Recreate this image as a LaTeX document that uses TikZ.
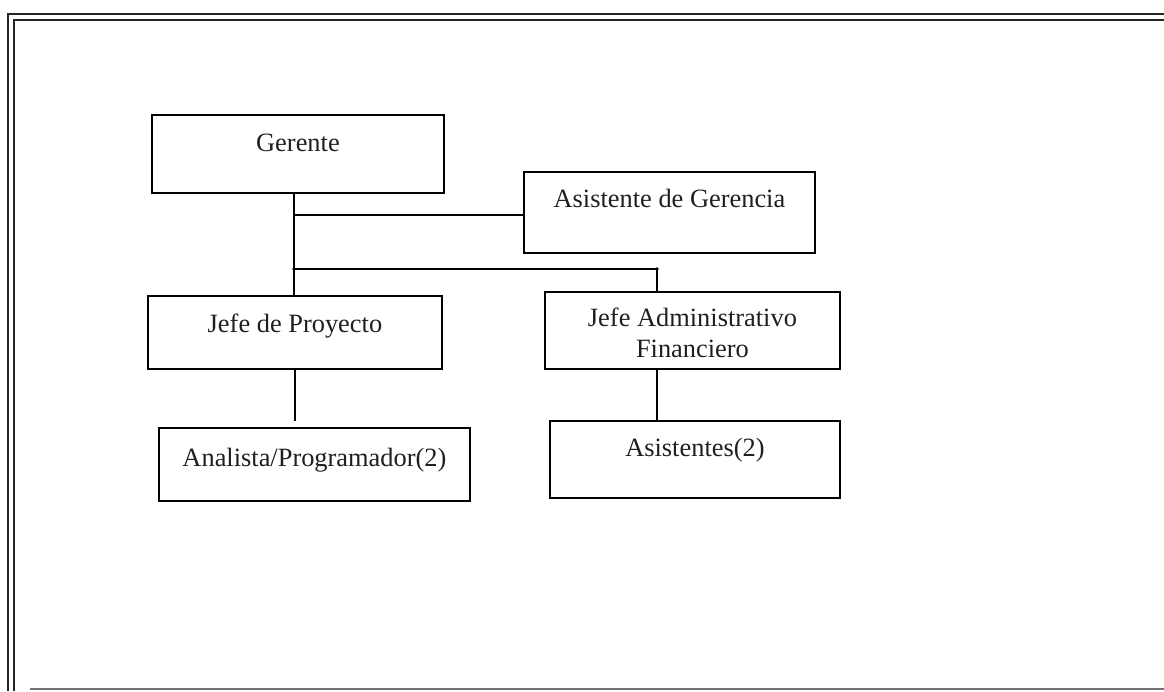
\documentclass[tikz,border=0pt]{standalone}
\usepackage{fontspec}
\setmainfont{Liberation Serif}
\usepackage{tikz}
\newcommand{\orgfont}{\fontsize{26.4}{31}\selectfont}
\tikzset{
  orgbox/.style   = {draw,line width=1.9pt,inner sep=0pt,anchor=north west,font=\orgfont,align=center,text=black!88},
  orgline/.style  = {line width=1.9pt},
  frameline/.style= {line width=2.4pt,black!85}
}

\begin{document}
\begin{tikzpicture}[x=1pt,y=-1pt]
  \useasboundingbox (0,0) rectangle (1164,691);
  \draw[frameline] (8,691) -- (8,14) -- (1164,14);
  \draw[frameline] (14,691) -- (14,20) -- (1164,20);
  \draw[line width=1.8pt,black!55] (30,689) -- (1164,689);

  \node[orgbox,minimum width=292pt,text height=37pt,text depth=41pt] (ger)  at (151,114) {Gerente};
  \node[orgbox,minimum width=291pt,text height=36pt,text depth=45pt] (asis) at (523,171) {Asistente de Gerencia};
  \node[orgbox,minimum width=294pt,text height=37pt,text depth=36pt] (jp)   at (147,295) {Jefe de Proyecto};
  \node[orgbox,minimum width=295pt,text height=66pt,text depth=11pt] (jaf)  at (544,291) {Jefe Administrativo\\Financiero};
  \node[orgbox,minimum width=311pt,text height=39pt,text depth=34pt] (ap)   at (158,427) {Analista/Programador(2)};
  \node[orgbox,minimum width=290pt,text height=36pt,text depth=41pt] (asts) at (549,420) {Asistentes(2)};

  \coordinate (j1) at (294,215);
  \coordinate (j2) at (294,269);
  \coordinate (j3) at (657,269);
  \coordinate (j4) at (295,421);

  \draw[orgline] (ger.south -| j1) -- (jp.north -| j1);
  \draw[orgline] (j1) -- (asis.west |- j1);
  \draw[orgline] (j2) -- (j3) -- (jaf.north -| j3);
  \fill (j2) circle (1.8pt) (j3) circle (1.8pt);
  \draw[orgline] (jp.south -| j4) -- (j4);
  \draw[orgline] (jaf.south -| j3) -- (asts.north -| j3);
\end{tikzpicture}
\end{document}
